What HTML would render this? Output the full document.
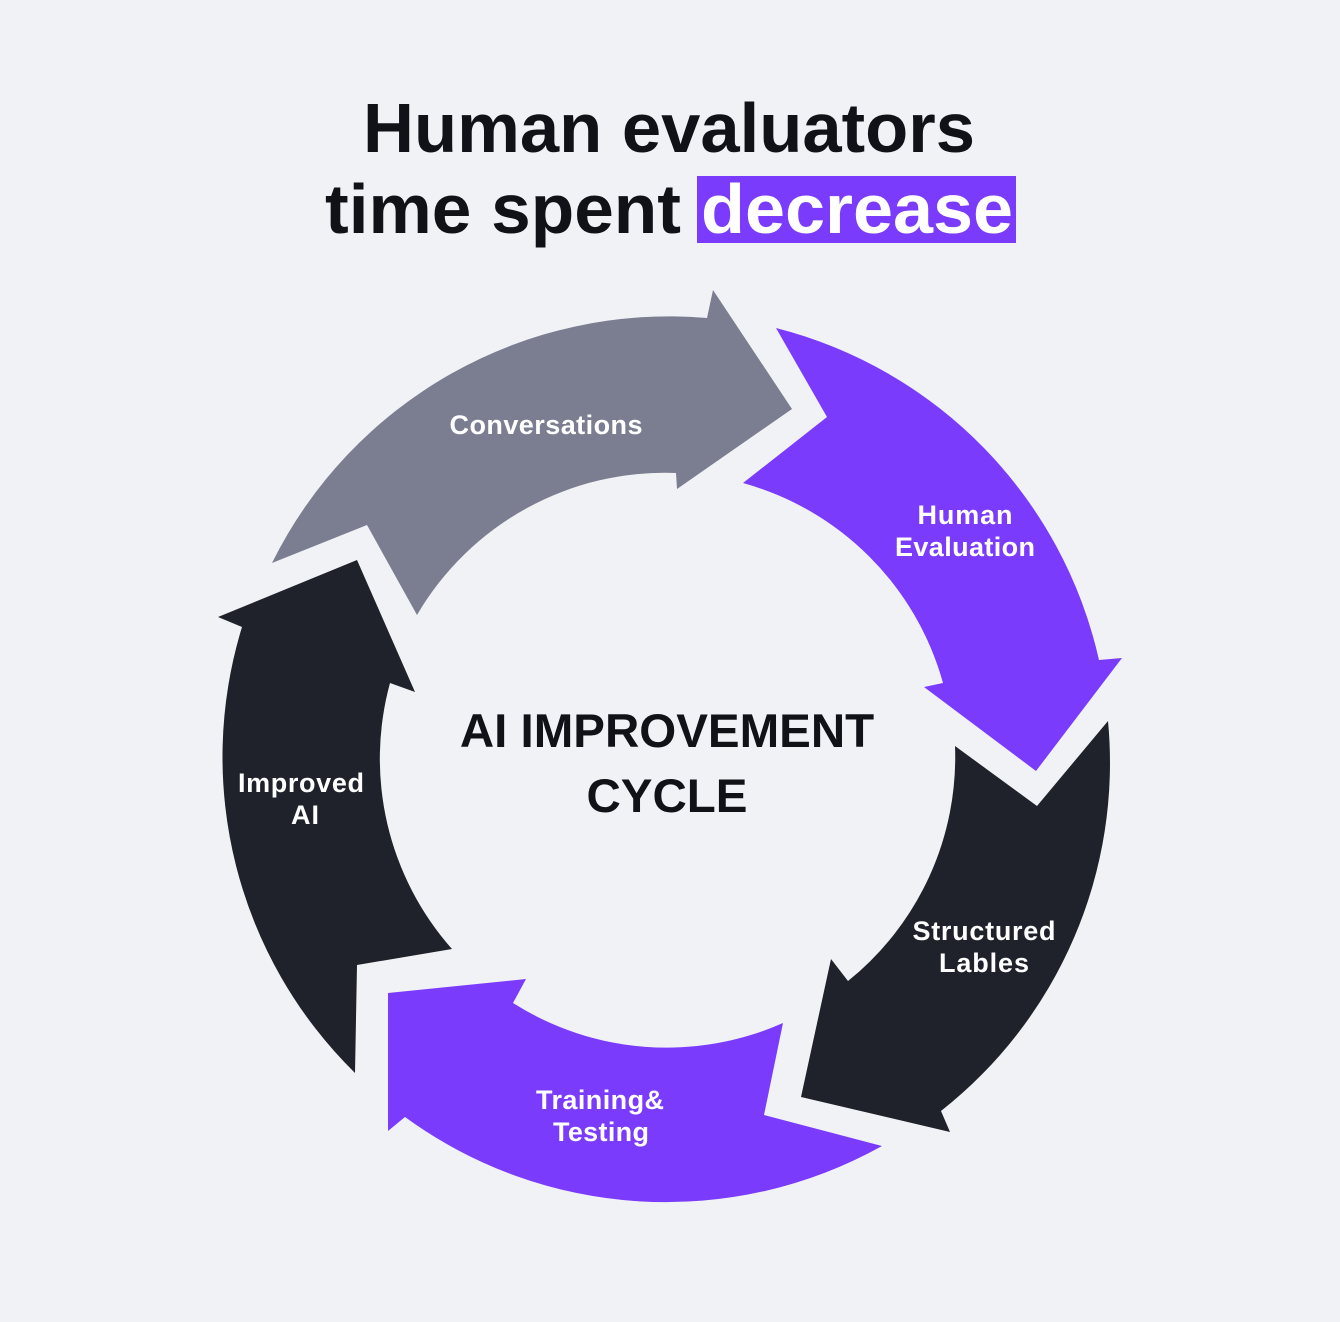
<!DOCTYPE html>
<html><head><meta charset="utf-8"><style>
html,body{margin:0;padding:0;background:#f1f2f6;}
svg{display:block;}
</style></head><body>
<svg width="1340" height="1322" viewBox="0 0 1340 1322" xmlns="http://www.w3.org/2000/svg">
<rect width="1340" height="1322" fill="#f1f2f6"/>
<text x="669" y="152" text-anchor="middle" font-family="Liberation Sans, sans-serif" font-weight="bold" font-size="70" fill="#111218" textLength="612" lengthAdjust="spacingAndGlyphs">Human evaluators</text>
<rect x="697" y="176" width="319" height="67" fill="#7b3bfd"/>
<text x="325" y="233" font-family="Liberation Sans, sans-serif" font-weight="bold" font-size="70" fill="#111218" textLength="356" lengthAdjust="spacingAndGlyphs">time spent</text>
<text x="701" y="233" font-family="Liberation Sans, sans-serif" font-weight="bold" font-size="70" fill="#ffffff" textLength="312" lengthAdjust="spacingAndGlyphs">decrease</text>

<path fill="#7b7e90" d="M272,563 A443,443 0 0 1 707,318 L713,290 L792,409 L677,489 L676,473 A287,287 0 0 0 417,615 L367,525 Z"/>
<path fill="#7b3bfd" d="M776,328 A443,443 0 0 1 1099,660 L1122,658 L1036,771 L924,687 L943,683 A287,287 0 0 0 743,483 L827,417 Z"/>
<path fill="#20222b" d="M1108,721 A443,443 0 0 1 941,1111 L950,1132 L801,1097 L831,959 L848,981 A287,287 0 0 0 955,746 L1037,806 Z"/>
<path fill="#7b3bfd" d="M882,1146 A443,443 0 0 1 405,1117 L388,1131 L388,993 L526,979 L513,1003 A287,287 0 0 0 783,1023 L764,1115 Z"/>
<path fill="#20222b" d="M355,1073 A443,443 0 0 1 242,627 L218,617 L357,560 L415,692 L390,683 A287,287 0 0 0 452,949 L357,965 Z"/>

<g font-family="Liberation Sans, sans-serif" font-weight="bold" font-size="27" fill="#ffffff" text-anchor="middle" lengthAdjust="spacingAndGlyphs">
<text x="546" y="434" textLength="193">Conversations</text>
<text x="965" y="524" textLength="95">Human</text>
<text x="965" y="556" textLength="140">Evaluation</text>
<text x="984" y="940" textLength="143">Structured</text>
<text x="984" y="972" textLength="90">Lables</text>
<text x="600" y="1109" textLength="128">Training&amp;</text>
<text x="601" y="1141" textLength="96">Testing</text>
<text x="301" y="792" textLength="126">Improved</text>
<text x="305" y="824" textLength="28">AI</text>
</g>
<g font-family="Liberation Sans, sans-serif" font-weight="bold" font-size="47.5" fill="#111218" text-anchor="middle">
<text x="667" y="747">AI IMPROVEMENT</text>
<text x="667" y="812">CYCLE</text>
</g>
</svg>
</body></html>
